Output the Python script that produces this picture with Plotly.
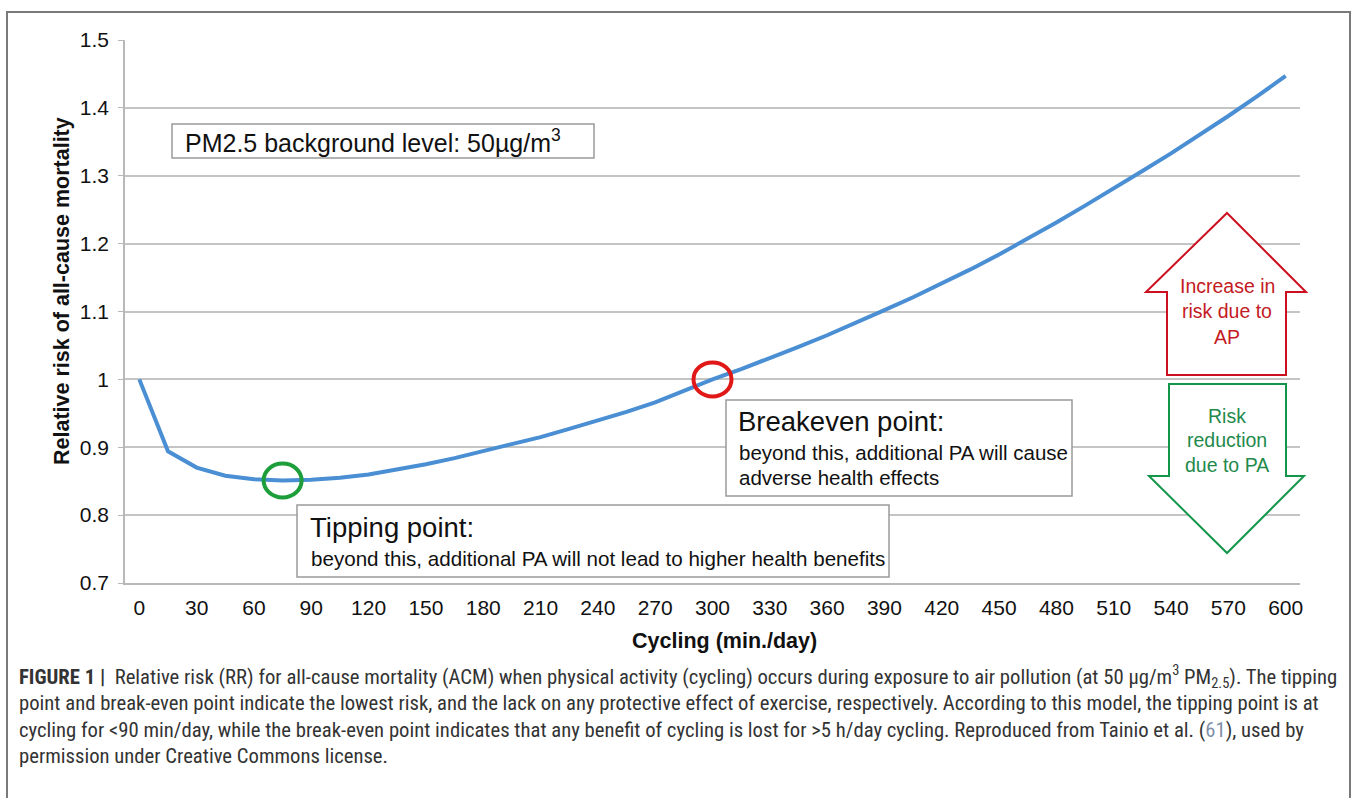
import plotly.graph_objects as go

# ---- data ----
minutes = [0, 15, 30, 45, 60, 75, 90, 105, 120, 135, 150, 165, 180, 195, 210, 225, 240, 255, 270, 285,
           300, 315, 330, 345, 360, 375, 390, 405, 420, 435, 450, 465, 480, 495, 510, 525, 540, 555, 570,
           585, 600]
relative_risk = [1.000, 0.894, 0.870, 0.858, 0.853, 0.851, 0.852, 0.855, 0.860, 0.867, 0.875, 0.884,
                 0.894, 0.904, 0.915, 0.927, 0.939, 0.952, 0.966, 0.983, 1.000, 1.015, 1.031, 1.048,
                 1.065, 1.083, 1.102, 1.121, 1.141, 1.162, 1.184, 1.207, 1.231, 1.256, 1.281, 1.307,
                 1.333, 1.360, 1.388, 1.417, 1.447]
x_ticks = [0, 30, 60, 90, 120, 150, 180, 210, 240, 270, 300, 330, 360, 390, 420, 450, 480, 510, 540, 570, 600]
y_ticks = [0.7, 0.8, 0.9, 1.0, 1.1, 1.2, 1.3, 1.4, 1.5]
y_tick_labels = ["0.7", "0.8", "0.9", "1", "1.1", "1.2", "1.3", "1.4", "1.5"]
tipping_point = (75, 0.851)
breakeven_point = (300, 1.0)

# ---- layout geometry (pixels) ----
WIDTH, HEIGHT = 1357, 798
L, R, T, B = 125, 1300, 40, 583
PW, PH = R - L, B - T


def px(x):
    return (x - L) / PW


def py(y):
    return (B - y) / PH


FONT = "Liberation Sans, Arial, Helvetica, sans-serif"
NARROW = "Liberation Sans Narrow, Arial Narrow, Roboto Condensed, Liberation Sans, sans-serif"

fig = go.Figure()
fig.add_trace(go.Scatter(x=minutes, y=relative_risk, mode="lines",
                         line=dict(color="#4a8ed3", width=4), hoverinfo="skip", showlegend=False))

shapes = []
annotations = []

# outer frame
shapes.append(dict(type="rect", xref="paper", yref="paper", x0=px(7), x1=px(1350), y0=py(12), y1=py(812),
                   line=dict(color="#7a7a7a", width=2), layer="below"))


def box(x0, y0, x1, y1):
    shapes.append(dict(type="rect", xref="paper", yref="paper", x0=px(x0), x1=px(x1), y0=py(y1), y1=py(y0),
                       line=dict(color="#9a9a9a", width=1.5), fillcolor="white", layer="above"))


def text(x, y, s, size, color="#111", bold=False, anchor="left", family=FONT):
    if bold:
        s = "<b>" + s + "</b>"
    annotations.append(dict(xref="paper", yref="paper", x=px(x), y=py(y), text=s, showarrow=False,
                            xanchor=anchor, yanchor="middle", font=dict(family=family, size=size, color=color)))


# PM2.5 box
box(172, 124, 594, 158)
text(183, 141, "PM2.5 background level: 50µg/m<sup>3</sup>", 25)

# Breakeven box
box(726, 400, 1072, 496)
text(736, 421, "Breakeven point:", 27.5)
text(737, 452, "beyond this, additional PA will cause", 20.5)
text(737, 478, "adverse health effects", 20.5)

# Tipping box
box(297, 505, 889, 577)
text(308, 527, "Tipping point:", 27.5)
text(309, 558, "beyond this, additional PA will not lead to higher health benefits", 20.6)

# circles
for (cx, cy), col in [(tipping_point, "#1e9e3a"), (breakeven_point, "#e01818")]:
    shapes.append(dict(type="circle", xref="x", yref="y", xsizemode="pixel", ysizemode="pixel",
                       xanchor=cx, yanchor=cy, x0=-19, x1=19, y0=-17, y1=17,
                       line=dict(color=col, width=4), layer="above"))


# arrows
def poly(points):
    return "M " + " L ".join(f"{px(x):.5f},{py(y):.5f}" for x, y in points) + " Z"


up = [(1227, 213), (1306, 292), (1286, 292), (1286, 375), (1167, 375), (1167, 292), (1146, 292)]
down = [(1169, 384), (1286, 384), (1286, 476), (1304, 476), (1227, 553), (1149, 476), (1169, 476)]
shapes.append(dict(type="path", xref="paper", yref="paper", path=poly(up),
                   line=dict(color="#cc1020", width=2), fillcolor="white", layer="above"))
shapes.append(dict(type="path", xref="paper", yref="paper", path=poly(down),
                   line=dict(color="#14964a", width=2), fillcolor="white", layer="above"))
for s, y in [("Increase in", 286), ("risk due to", 311), ("AP", 337)]:
    text(1227, y, s, 19.5, color="#c41a24", anchor="center")
for s, y in [("Risk", 416), ("reduction", 440), ("due to PA", 465)]:
    text(1227, y, s, 19.5, color="#1f8a4c", anchor="center")

# axis titles
annotations.append(dict(xref="paper", yref="paper", x=px(62), y=py(291), text="<b>Relative risk of all-cause mortality</b>",
                        showarrow=False, textangle=-90, xanchor="center", yanchor="middle",
                        font=dict(family=FONT, size=21.5, color="#111")))
text(724, 641, "Cycling (min./day)", 21.5, bold=True, anchor="center")

# caption
cap = [
    "<b>FIGURE 1 |</b>  Relative risk (RR) for all-cause mortality (ACM) when physical activity (cycling) occurs during exposure to air pollution (at 50 µg/m<sup>3</sup> PM<sub>2.5</sub>). The tipping",
    "point and break-even point indicate the lowest risk, and the lack on any protective effect of exercise, respectively. According to this model, the tipping point is at",
    "cycling for &lt;90 min/day, while the break-even point indicates that any benefit of cycling is lost for &gt;5 h/day cycling. Reproduced from Tainio et al. (<span style='color:#8090a8'>61</span>), used by",
    "permission under Creative Commons license.",
]
for i, s in enumerate(cap):
    text(17, 677 + i * 26.3, s, 20.7, color="#333", family=NARROW)

fig.update_layout(
    width=WIDTH, height=HEIGHT,
    margin=dict(l=L, r=WIDTH - R, t=T, b=HEIGHT - B),
    paper_bgcolor="white", plot_bgcolor="white",
    shapes=shapes, annotations=annotations,
    xaxis=dict(range=[-7.5, 607.5], tickvals=x_ticks, showgrid=False, zeroline=False,
               showline=True, linecolor="#b8b8b8", linewidth=1.5, ticks="", ticklabelstandoff=5,
               tickfont=dict(family=FONT, size=21, color="#111"), fixedrange=True),
    yaxis=dict(range=[0.7, 1.5], tickvals=y_ticks, ticktext=y_tick_labels, showgrid=True,
               gridcolor="#c4c4c4", gridwidth=1.5, zeroline=False, showline=True, linecolor="#b8b8b8",
               linewidth=1.5, ticks="outside", ticklen=5, tickcolor="#b8b8b8", ticklabelstandoff=5,
               tickfont=dict(family=FONT, size=21, color="#111"), fixedrange=True),
    showlegend=False,
)

fig.write_html("out.html", config={"displayModeBar": False},
               post_script="document.body.style.margin='0';document.body.style.padding='0';")
